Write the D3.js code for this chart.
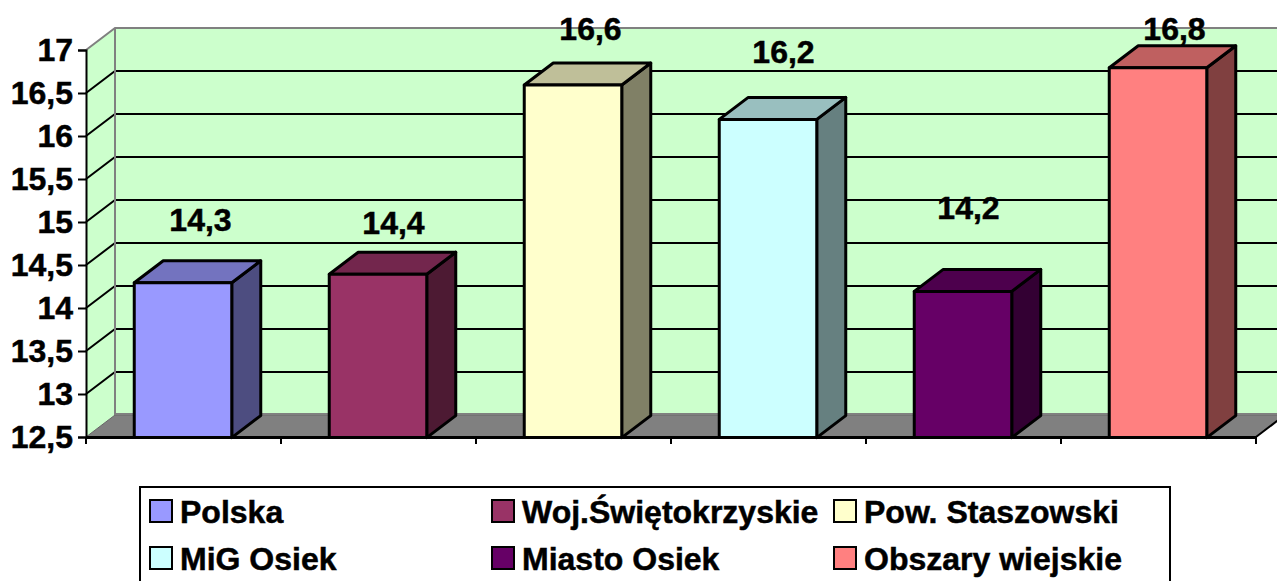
<!DOCTYPE html>
<html>
    <head>
        <meta charset="utf-8">
        <script src="https://d3js.org/d3.v7.min.js"></script>
        <style>
            html, body { margin: 0; padding: 0; background: white; overflow: hidden; }
            svg { display: block; }
            text { font-family: "Liberation Sans", Arial, sans-serif; font-weight: bold; fill: black; stroke: black; stroke-width: 0.5px; }
        </style>
    </head>
    <body>
        <div id="chart"></div>
    </body>
    <script>
        const categories = ['Polska', 'Woj.Świętokrzyskie', 'Pow. Staszowski', 'MiG Osiek', 'Miasto Osiek', 'Obszary wiejskie'];
        const values = [14.3, 14.4, 16.6, 16.2, 14.2, 16.8];
        const yTicks = [12.5, 13, 13.5, 14, 14.5, 15, 15.5, 16, 16.5, 17];
        const colors = ['#9999ff', '#993366', '#ffffcc', '#ccffff', '#660066', '#ff8080'];

        // data labels were dragged by hand in the original, so each has its own offset
        const labelShift = [[17, -60], [15, -48], [17, -53], [15, -64], [5, -80], [16, -36]];

        const svgWidth = 1277;
        const svgHeight = 581;
        const depthX = 29;
        const depthY = -22;
        const fontSize = '32px';

        const svg = d3.select('#chart')
            .append('svg')
            .attr('width', svgWidth)
            .attr('height', svgHeight);

        const xScale = d3.scaleBand()
            .domain(categories)
            .range([86, 1256])
            .paddingInner(0.5)
            .paddingOuter(0.25);

        const yScale = d3.scaleLinear()
            .domain([12.5, 17])
            .range([437, 50]);

        const yMin = yScale(12.5);
        const yMax = yScale(17);
        const xLeft = xScale.range()[0];
        const xRight = xScale.range()[1];
        const poly = (pts) => pts.map(p => p.join(',')).join(' ');

        // left wall and back wall
        svg.append('polygon')
            .attr('points', poly([[xLeft, yMax], [xLeft + depthX, yMax + depthY], [xLeft + depthX, yMin + depthY], [xLeft, yMin]]))
            .attr('fill', '#ccffcc');

        svg.append('rect')
            .attr('x', xLeft + depthX)
            .attr('y', yMax + depthY)
            .attr('width', svgWidth)
            .attr('height', yMin - yMax)
            .attr('fill', '#ccffcc');

        // gridlines on both walls
        const gridTicks = yTicks.filter(d => d !== 12.5 && d !== 17);

        svg.selectAll('.grid')
            .data(gridTicks)
            .enter()
            .append('polyline')
            .attr('class', 'grid')
            .attr('points', d => poly([[xLeft, yScale(d)], [xLeft + depthX, yScale(d) + depthY], [xRight + depthX, yScale(d) + depthY]]))
            .attr('fill', 'none')
            .attr('stroke', 'black')
            .attr('stroke-width', 2);

        // floor
        svg.append('polygon')
            .attr('points', poly([[xLeft, yMin], [xLeft + depthX, yMin + depthY], [xRight + depthX, yMin + depthY], [xRight, yMin]]))
            .attr('fill', '#808080')
            .attr('stroke', '#666666')
            .attr('stroke-width', 1);

        // grey wall edges
        svg.append('polyline')
            .attr('points', poly([[xLeft, yMax], [xLeft + depthX, yMax + depthY], [xRight + depthX, yMax + depthY]]))
            .attr('fill', 'none')
            .attr('stroke', '#808080')
            .attr('stroke-width', 2);

        svg.append('line')
            .attr('x1', xLeft + depthX)
            .attr('x2', xLeft + depthX)
            .attr('y1', yMax + depthY)
            .attr('y2', yMin + depthY)
            .attr('stroke', '#808080')
            .attr('stroke-width', 2);

        svg.append('line')
            .attr('x1', xLeft + depthX)
            .attr('x2', xRight + depthX)
            .attr('y1', yMin + depthY - 1)
            .attr('y2', yMin + depthY - 1)
            .attr('stroke', '#808080')
            .attr('stroke-width', 2);

        // bars: side, top, front
        const shade = (c, k) => {
            const rgb = d3.rgb(c);
            return d3.rgb(rgb.r * k, rgb.g * k, rgb.b * k);
        };
        const bars = svg.selectAll('.bar')
            .data(categories)
            .enter()
            .append('g')
            .attr('class', 'bar')
            .attr('transform', 'translate(-0.5, 0.6)')
            .attr('stroke', 'black')
            .attr('stroke-width', 3)
            .attr('stroke-linejoin', 'round');

        bars.append('polygon')
            .attr('points', (d, i) => {
                const x1 = xScale(d) + xScale.bandwidth();
                const y1 = yScale(values[i]);
                return poly([[x1, y1], [x1 + depthX, y1 + depthY], [x1 + depthX, yMin + depthY], [x1, yMin]]);
            })
            .attr('fill', (d, i) => shade(colors[i], 0.5));

        bars.append('polygon')
            .attr('points', (d, i) => {
                const x0 = xScale(d);
                const x1 = x0 + xScale.bandwidth();
                const y1 = yScale(values[i]);
                return poly([[x0, y1], [x0 + depthX, y1 + depthY], [x1 + depthX, y1 + depthY], [x1, y1]]);
            })
            .attr('fill', (d, i) => shade(colors[i], 0.75));

        bars.append('rect')
            .attr('x', d => xScale(d))
            .attr('y', (d, i) => yScale(values[i]))
            .attr('width', xScale.bandwidth())
            .attr('height', (d, i) => yMin - yScale(values[i]))
            .attr('fill', (d, i) => colors[i]);

        // axes
        const yAxis = d3.axisLeft(yScale)
            .tickValues(yTicks)
            .tickSize(8)
            .tickPadding(5)
            .tickFormat(d => String(d).replace('.', ','));

        const yG = svg.append('g')
            .attr('transform', `translate(${xLeft}, 0)`)
            .call(yAxis);

        yG.select('.domain').attr('stroke-width', 2);
        yG.selectAll('.tick line').attr('stroke-width', 2);
        yG.selectAll('text')
            .style('font-size', fontSize)
            .style('font-family', '"Liberation Sans", Arial, sans-serif')
            .style('font-weight', 'bold')
            .attr('fill', 'black');

        const xAxis = d3.axisBottom(xScale).tickSize(0).tickFormat('');
        const xG = svg.append('g')
            .attr('transform', `translate(0, ${yMin})`)
            .call(xAxis);

        xG.select('.domain').attr('stroke-width', 3);

        const boundaries = d3.range(categories.length + 1).map(i => xLeft + i * xScale.step());
        svg.selectAll('.xtick')
            .data(boundaries)
            .enter()
            .append('line')
            .attr('class', 'xtick')
            .attr('x1', d => d)
            .attr('x2', d => d)
            .attr('y1', yMin)
            .attr('y2', yMin + 7)
            .attr('stroke', 'black')
            .attr('stroke-width', 2);

        // right edge of the floor
        svg.append('line')
            .attr('x1', xRight)
            .attr('y1', yMin)
            .attr('x2', xRight + depthX)
            .attr('y2', yMin + depthY)
            .attr('stroke', 'black')
            .attr('stroke-width', 2);

        // data labels
        svg.selectAll('.label')
            .data(values)
            .enter()
            .append('text')
            .attr('class', 'label')
            .attr('x', (d, i) => xScale(categories[i]) + xScale.bandwidth() / 2 + labelShift[i][0])
            .attr('y', (d, i) => yScale(d) + labelShift[i][1])
            .attr('text-anchor', 'middle')
            .attr('dominant-baseline', 'middle')
            .style('font-size', fontSize)
            .text(d => String(d).replace('.', ','));

        // legend
        svg.append('rect')
            .attr('x', 140)
            .attr('y', 487)
            .attr('width', 1030)
            .attr('height', 110)
            .attr('fill', 'white')
            .attr('stroke', 'black')
            .attr('stroke-width', 2);

        const legendX = d3.scalePoint().domain([0, 1, 2]).range([150, 834]);
        const legendY = d3.scalePoint().domain([0, 1]).range([500, 547]);

        const legendItems = svg.selectAll('.legend')
            .data(categories)
            .enter()
            .append('g')
            .attr('class', 'legend')
            .attr('transform', (d, i) => `translate(${legendX(i % 3)}, ${legendY(Math.floor(i / 3))})`);

        legendItems.append('rect')
            .attr('width', 22)
            .attr('height', 22)
            .attr('fill', (d, i) => colors[i])
            .attr('stroke', 'black')
            .attr('stroke-width', 2);

        legendItems.append('text')
            .attr('x', 30)
            .attr('y', 23)
            .style('font-size', fontSize)
            .text(d => d);
    </script>
</html>
